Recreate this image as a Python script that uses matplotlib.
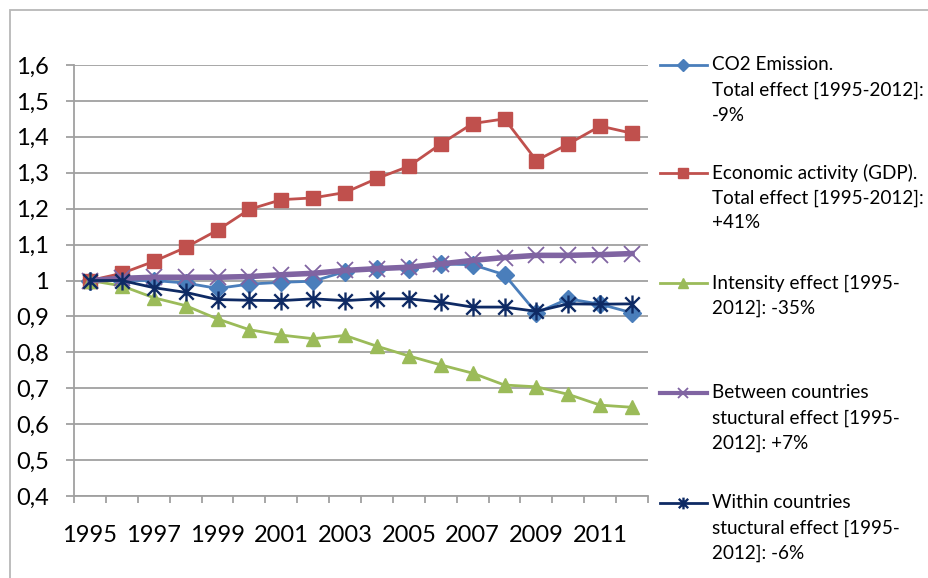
import matplotlib
matplotlib.use("Agg")
import matplotlib.pyplot as plt
from matplotlib.path import Path
from matplotlib.lines import Line2D
from matplotlib.patches import Rectangle

plt.rcParams['font.family'] = ['Lato', 'DejaVu Sans']

years = list(range(1995, 2013))
co2 = [1.0, 1.0, 1.0, 0.993, 0.978, 0.99, 0.995, 0.998, 1.025, 1.033, 1.033, 1.046, 1.044, 1.016, 0.91, 0.949, 0.934, 0.91]
gdp = [1.0, 1.02, 1.053, 1.092, 1.14, 1.198, 1.225, 1.23, 1.245, 1.284, 1.318, 1.38, 1.437, 1.45, 1.334, 1.38, 1.43, 1.41]
intensity = [1.0, 0.985, 0.952, 0.93, 0.893, 0.863, 0.848, 0.838, 0.847, 0.817, 0.79, 0.765, 0.742, 0.709, 0.704, 0.683, 0.653, 0.647]
between = [1.0, 1.006, 1.009, 1.009, 1.009, 1.011, 1.016, 1.02, 1.028, 1.033, 1.037, 1.046, 1.056, 1.064, 1.07, 1.07, 1.072, 1.075]
within = [1.0, 1.0, 0.98, 0.967, 0.947, 0.945, 0.944, 0.949, 0.944, 0.949, 0.949, 0.94, 0.926, 0.926, 0.914, 0.935, 0.934, 0.935]

labels = [
    "CO2 Emission.\nTotal effect [1995-2012]:\n-9%",
    "Economic activity (GDP).\nTotal effect [1995-2012]:\n+41%",
    "Intensity effect [1995-\n2012]: -35%",
    "Between countries\nstuctural effect [1995-\n2012]: +7%",
    "Within countries\nstuctural effect [1995-\n2012]: -6%",
]
xtick_years = [1995, 1997, 1999, 2001, 2003, 2005, 2007, 2009, 2011]
yticks = [0.4, 0.5, 0.6, 0.7, 0.8, 0.9, 1.0, 1.1, 1.2, 1.3, 1.4, 1.5, 1.6]
ytick_labels = ['0,4', '0,5', '0,6', '0,7', '0,8', '0,9', '1', '1,1', '1,2', '1,3', '1,4', '1,5', '1,6']

# asterisk marker: vertical bar + X
ast = Path([(0, -1), (0, 1), (-0.8, -0.8), (0.8, 0.8), (-0.8, 0.8), (0.8, -0.8)],
           [Path.MOVETO, Path.LINETO, Path.MOVETO, Path.LINETO, Path.MOVETO, Path.LINETO])

styles = [
    dict(color='#4a7ebb', lw=2.0, marker='D', ms=9, mfc='#4a7ebb', mec='#4a7ebb'),
    dict(color='#c0504d', lw=2.0, marker='s', ms=10, mfc='#c0504d', mec='#c0504d'),
    dict(color='#9bbb59', lw=2.0, marker='^', ms=10, mfc='#9bbb59', mec='#9bbb59'),
    dict(color='#8064a2', lw=4.0, marker='x', ms=11, mew=1.3, mec='#8064a2'),
    dict(color='#0e2a64', lw=2.0, marker=ast, ms=13, mew=1.7, mec='#0e2a64'),
]
series = [co2, gdp, intensity, between, within]

W, H = 929, 578
fig = plt.figure(figsize=(W / 100, H / 100), dpi=100)
ax = fig.add_axes([74 / W, 1 - 496 / H, (648 - 74) / W, (496 - 65) / H])

for vals, st in zip(series, styles):
    ax.plot(years, vals, clip_on=False, **st)

grid_c = '#a0a0a0'
ax.set_xlim(1994.5, 2012.5)
ax.set_ylim(0.4, 1.6)
ax.set_yticks(yticks)
ax.set_yticklabels(ytick_labels, fontsize=17)
ax.set_xticks(xtick_years)
ax.set_xticklabels([str(y) for y in xtick_years], fontsize=17)
ax.set_xticks([y - 0.5 for y in years] + [2012.5], minor=True)
ax.tick_params(axis='x', which='major', length=0, pad=21)
ax.tick_params(axis='x', which='minor', length=5, color=grid_c, width=1.3)
ax.tick_params(axis='y', length=6, color=grid_c, width=1.3, pad=12)
ax.yaxis.grid(True, color=grid_c, lw=1.3)
ax.set_axisbelow(True)
for s in ['top', 'right']:
    ax.spines[s].set_visible(False)
for s in ['left', 'bottom']:
    ax.spines[s].set_color(grid_c)
    ax.spines[s].set_linewidth(1.3)

# outer chart border
fig.patches.append(Rectangle((10 / W, -0.1), 1.5, (H - 10) / H + 0.1, transform=fig.transFigure,
                             fill=False, ec='#b8b8b8', lw=1.3))

# legend
entry_y = [65, 173, 283, 393, 503]
for lab, st, ey in zip(labels, styles, entry_y):
    yf = 1 - ey / H
    fig.add_artist(Line2D([660 / W, 707 / W], [yf, yf], color=st['color'], lw=st['lw'] * (0.75 if st['lw'] > 3 else 1),
                          transform=fig.transFigure))
    m = {k: v for k, v in st.items() if k in ('marker', 'mfc', 'mec', 'mew')}
    fig.add_artist(Line2D([683 / W], [yf], ls='none', ms=st['ms'] * 0.65, transform=fig.transFigure, **m))
    for i, line in enumerate(lab.split('\n')):
        fig.text(712 / W, 1 - (ey + 25 * i) / H, line, fontsize=13.6, va='center', ha='left', color='#000000')

fig.savefig('out.png', dpi=100)
